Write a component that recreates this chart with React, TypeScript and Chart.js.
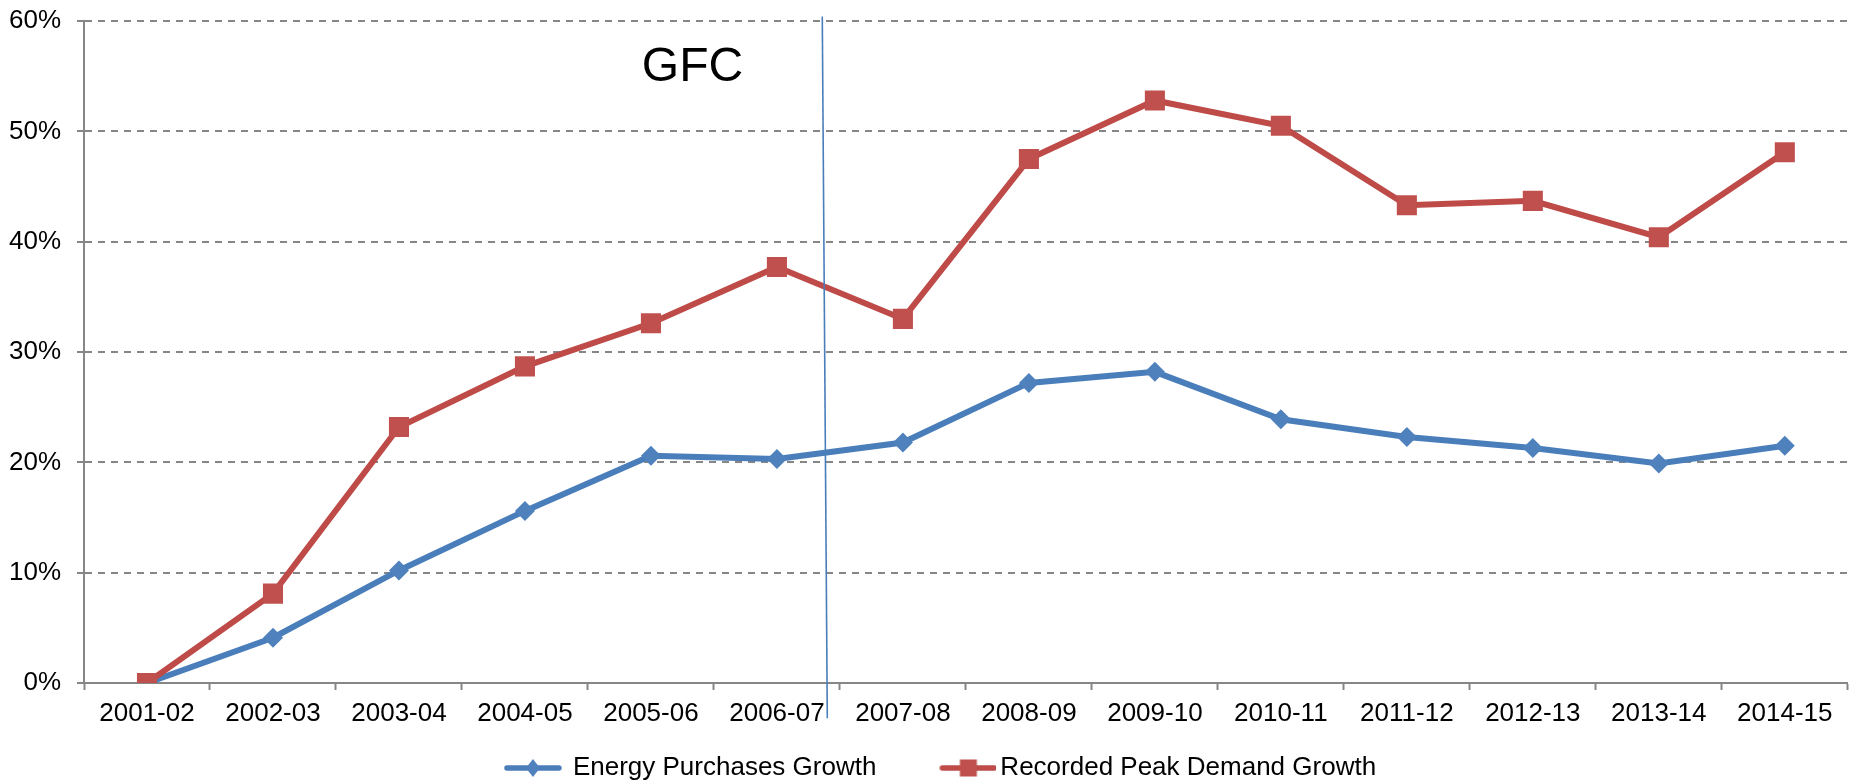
import { useEffect, useRef } from "react";
import { Chart, registerables } from "chart.js";

Chart.register(...registerables);

const categories = [
  "2001-02", "2002-03", "2003-04", "2004-05", "2005-06", "2006-07", "2007-08",
  "2008-09", "2009-10", "2010-11", "2011-12", "2012-13", "2013-14", "2014-15",
];
const energyPurchasesGrowth = [0, 4.1, 10.2, 15.6, 20.6, 20.3, 21.8, 27.2, 28.2, 23.9, 22.3, 21.3, 19.9, 21.5];
const peakDemandGrowth = [0, 8.1, 23.2, 28.7, 32.6, 37.7, 33.0, 47.5, 52.8, 50.5, 43.3, 43.7, 40.4, 48.1];
const seriesNames = ["Energy Purchases Growth", "Recorded Peak Demand Growth"];
const yMin = 0;
const yMax = 60;
const yStep = 10;

// GFC annotation: positions in data space (category index, percent)
const gfcLabel = "GFC";
const gfcLabelPos = [4.33, 55.8];
const gfcLineTop = [5.36, 60.4];
const gfcLineBottom = [5.40, -3.2];

const FONT = "'Liberation Sans', Arial, sans-serif";
const BLUE_LINE = "#4A7EBB";
const BLUE_MARK = "#4F81BD";
const RED_LINE = "#BE4B48";
const RED_MARK = "#C0504D";
const GRID = "#868686";

// legend icon: line + marker, drawn into a small canvas used as point style
function makeIcon(lineColor: string, markColor: string, shape: "diamond" | "square", lineStart: number) {
  const c = document.createElement("canvas");
  c.width = 102;
  c.height = 26;
  const ctx = c.getContext("2d")!;
  ctx.strokeStyle = lineColor;
  ctx.lineWidth = 5.5;
  ctx.lineCap = "round";
  ctx.beginPath();
  ctx.moveTo(lineStart + 2, 13);
  ctx.lineTo(lineStart + 54, 13);
  ctx.stroke();
  ctx.fillStyle = markColor;
  const cx = lineStart + 28;
  if (shape === "diamond") {
    ctx.beginPath();
    ctx.moveTo(cx, 4);
    ctx.lineTo(cx + 7, 13);
    ctx.lineTo(cx, 22);
    ctx.lineTo(cx - 7, 13);
    ctx.closePath();
    ctx.fill();
  } else {
    ctx.fillRect(cx - 8.5, 4.5, 17, 17);
  }
  return c;
}

const gfcPlugin = {
  id: "gfcAnnotation",
  afterDatasetsDraw(chart: any) {
    const { ctx, scales } = chart;
    const x = scales.x;
    const y = scales.y;
    ctx.save();
    ctx.strokeStyle = BLUE_LINE;
    ctx.lineWidth = 1.6;
    ctx.beginPath();
    ctx.moveTo(x.getPixelForValue(gfcLineTop[0]), y.getPixelForValue(gfcLineTop[1]));
    ctx.lineTo(x.getPixelForValue(gfcLineBottom[0]), y.getPixelForValue(gfcLineBottom[1]));
    ctx.stroke();
    ctx.fillStyle = "#000";
    ctx.font = `48px ${FONT}`;
    ctx.textAlign = "center";
    ctx.textBaseline = "middle";
    ctx.fillText(gfcLabel, x.getPixelForValue(gfcLabelPos[0]), y.getPixelForValue(gfcLabelPos[1]));
    ctx.restore();
  },
};

export default function App() {
  const ref = useRef<HTMLCanvasElement>(null);

  useEffect(() => {
    document.body.style.margin = "0";
    const icons = [
      makeIcon(BLUE_LINE, BLUE_MARK, "diamond", 38),
      makeIcon(RED_LINE, RED_MARK, "square", 46),
    ];
    const chart = new Chart(ref.current!, {
      type: "line",
      data: {
        labels: categories,
        datasets: [
          {
            label: seriesNames[0],
            data: energyPurchasesGrowth,
            borderColor: BLUE_LINE,
            backgroundColor: BLUE_MARK,
            borderWidth: 6,
            pointStyle: "rectRot",
            pointRadius: 10,
            pointBorderWidth: 0,
            pointBackgroundColor: BLUE_MARK,
            tension: 0,
            order: 1,
          },
          {
            label: seriesNames[1],
            data: peakDemandGrowth,
            borderColor: RED_LINE,
            backgroundColor: RED_MARK,
            borderWidth: 6,
            pointStyle: "rect",
            pointRadius: 14.2,
            pointBorderWidth: 0,
            pointBackgroundColor: RED_MARK,
            tension: 0,
            order: 0,
          },
        ],
      },
      options: {
        animation: false,
        responsive: false,
        maintainAspectRatio: false,
        layout: { padding: { left: 0, right: 10, top: 21, bottom: 0 } },
        plugins: {
          tooltip: { enabled: false },
          legend: {
            position: "bottom",
            maxHeight: 55,
            labels: {
              font: { family: FONT, size: 26 },
              color: "#000",
              usePointStyle: true,
              pointStyleWidth: 84,
              padding: 27,
              sort: (a: any, b: any) => a.datasetIndex - b.datasetIndex,
              generateLabels: (chart: any) => {
                const items = Chart.defaults.plugins.legend.labels.generateLabels(chart);
                return items.map((it: any) => ({ ...it, pointStyle: icons[it.datasetIndex] }));
              },
            },
          },
        },
        scales: {
          x: {
            offset: true,
            afterFit: (s: any) => {
              s.height = 45;
            },
            grid: {
              offset: true,
              drawOnChartArea: false,
              drawTicks: true,
              tickLength: 7,
              tickColor: GRID,
              tickWidth: 2,
              color: GRID,
            },
            border: { display: true, color: GRID, width: 2 },
            ticks: {
              font: { family: FONT, size: 26 },
              color: "#000",
              padding: 8,
              maxRotation: 0,
              autoSkip: false,
            },
          },
          y: {
            min: yMin,
            max: yMax,
            afterFit: (s: any) => {
              s.width = 84;
              s.paddingTop = 0;
              s.paddingBottom = 0;
            },
            grid: {
              color: GRID,
              lineWidth: 2,
              tickLength: 7,
              tickColor: GRID,
              tickWidth: 2,
            },
            border: { display: true, color: GRID, width: 2, dash: [7, 6] },
            ticks: {
              stepSize: yStep,
              font: { family: FONT, size: 26 },
              color: "#000",
              padding: 16,
              callback: (v: any) => `${v}%`,
            },
          },
        },
      },
      plugins: [gfcPlugin],
    });
    return () => chart.destroy();
  }, []);

  return (
    <div style={{ width: 1862, height: 783, background: "#fff" }}>
      <canvas ref={ref} width={1862} height={783} style={{ display: "block" }} />
    </div>
  );
}
